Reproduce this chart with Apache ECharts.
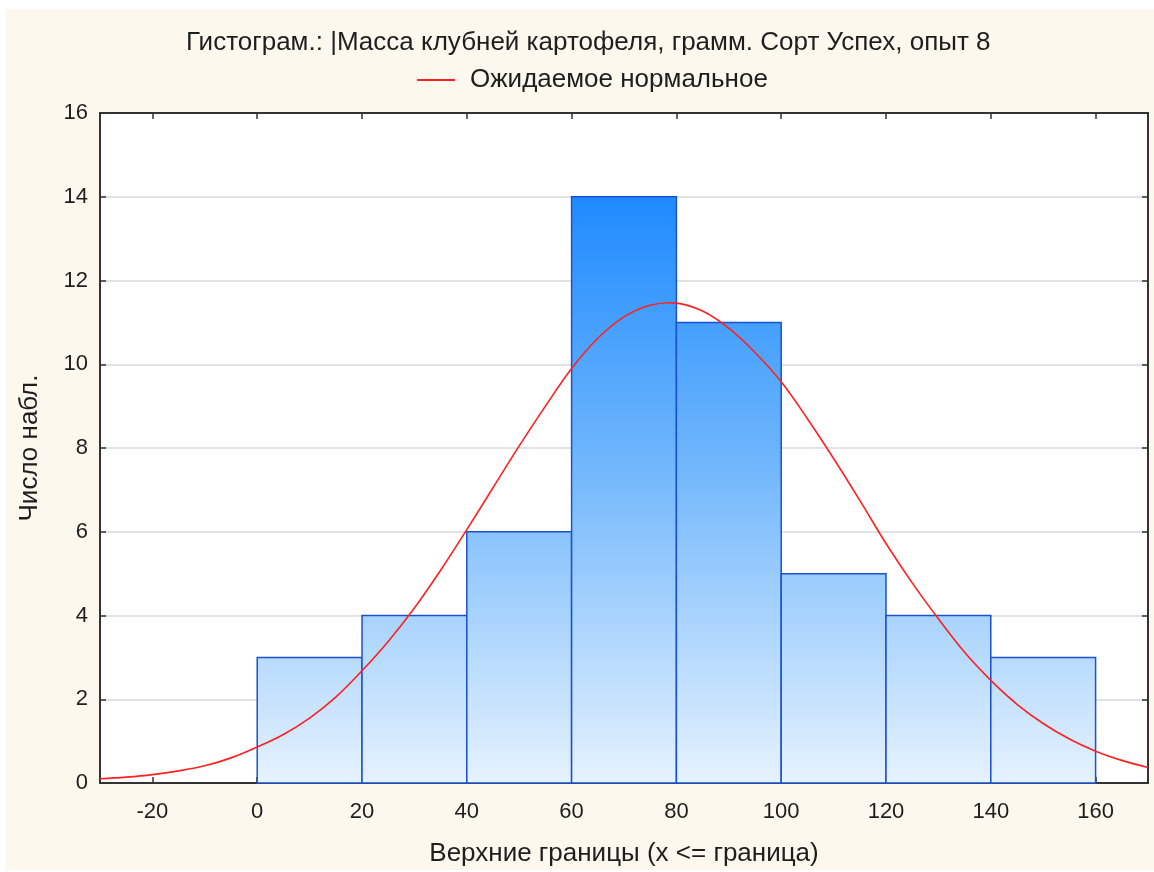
<!DOCTYPE html>
<html>
<head>
<meta charset="utf-8">
<script src="https://cdn.jsdelivr.net/npm/echarts@6/dist/echarts.min.js"></script>
<style>
  html, body { margin: 0; padding: 0; background: #ffffff; }
  #chart { width: 1154px; height: 872px; }
</style>
</head>
<body>
<div id="chart"></div>
<script>
// Histogram bins: lower and upper bounds (grams) and observed counts
const binLower = [0, 20, 40, 60, 80, 100, 120, 140];
const binUpper = [20, 40, 60, 80, 100, 120, 140, 160];
const binCounts = [3, 4, 6, 14, 11, 5, 4, 3];

// Expected normal curve, sampled along the x range
const curveX = [-30, -25, -20, -15, -10, -5, 0, 5, 10, 15, 20, 25, 30, 35, 40, 45, 50, 55, 60, 65, 70, 75, 80, 85, 90, 95, 100, 105, 110, 115, 120, 125, 130, 135, 140, 145, 150, 155, 160, 165, 170];
const curveY = [0.10, 0.14, 0.20, 0.29, 0.41, 0.60, 0.86, 1.16, 1.55, 2.05, 2.68, 3.38, 4.18, 5.08, 6.05, 7.05, 8.05, 9.00, 9.90, 10.62, 11.13, 11.41, 11.46, 11.27, 10.86, 10.28, 9.58, 8.70, 7.75, 6.75, 5.72, 4.78, 3.92, 3.12, 2.45, 1.88, 1.42, 1.05, 0.76, 0.54, 0.37];

// Axis tick labels
const xTicks = [-20, 0, 20, 40, 60, 80, 100, 120, 140, 160];
const yTicks = [0, 2, 4, 6, 8, 10, 12, 14, 16];

const titleText = 'Гистограм.: |Масса клубней картофеля, грамм. Сорт Успех, опыт 8';
const legendText = 'Ожидаемое нормальное';
const xName = 'Верхние границы (x <= граница)';
const yName = 'Число набл.';

const FONT = '"Liberation Sans", Arial, sans-serif';
const TEXT = '#1e1e1e';
const AXIS = '#333333';
const CURVE = '#ff2020';

const barData = binLower.map((lo, i) => [lo, binUpper[i], binCounts[i]]);
const curveData = curveX.map((x, i) => [x, curveY[i]]);

const chart = echarts.init(document.getElementById('chart'));

const tickCommon = { show: true, inside: true, length: 6, lineStyle: { color: AXIS, width: 1.5 } };
const lineCommon = { show: true, onZero: false, lineStyle: { color: AXIS, width: 2 } };

chart.setOption({
  backgroundColor: '#ffffff',
  animation: false,
  graphic: [{
    type: 'rect', z: -10, silent: true,
    shape: { x: 6, y: 9, width: 1148, height: 861 },
    style: { fill: '#fdf8ee' }
  }],
  title: {
    text: titleText,
    left: 181,
    top: 25,
    textStyle: { fontFamily: FONT, fontSize: 26, fontWeight: 'normal', color: TEXT }
  },
  legend: {
    top: 62,
    left: 412,
    itemWidth: 38,
    itemHeight: 2,
    itemGap: 12,
    icon: 'rect',
    data: [{ name: legendText, itemStyle: { color: CURVE } }],
    textStyle: { fontFamily: FONT, fontSize: 26, color: TEXT, padding: [0, 0, 0, 10] }
  },
  grid: {
    left: 100, top: 113, width: 1048, height: 670,
    outerBoundsMode: 'none',
    containLabel: false,
    show: true, backgroundColor: '#ffffff', borderColor: AXIS, borderWidth: 2
  },
  xAxis: [{
    type: 'value', min: -30, max: 170,
    name: xName, nameLocation: 'middle', nameGap: 58,
    nameTextStyle: { fontFamily: FONT, fontSize: 26, color: TEXT },
    axisLine: lineCommon,
    axisTick: Object.assign({ customValues: xTicks }, tickCommon),
    axisLabel: { customValues: xTicks, fontFamily: FONT, fontSize: 22, color: TEXT, margin: 18 },
    splitLine: { show: false }
  }, {
    type: 'value', min: -30, max: 170, position: 'top',
    axisLine: lineCommon,
    axisTick: Object.assign({ customValues: xTicks }, tickCommon),
    axisLabel: { show: false },
    splitLine: { show: false }
  }],
  yAxis: [{
    type: 'value', min: 0, max: 16, interval: 2,
    name: yName, nameLocation: 'middle', nameGap: 57, nameRotate: 90,
    nameTextStyle: { fontFamily: FONT, fontSize: 26, color: TEXT },
    axisLine: lineCommon,
    axisTick: tickCommon,
    axisLabel: { fontFamily: FONT, fontSize: 22, color: TEXT, margin: 12 },
    splitLine: { show: true, lineStyle: { color: '#d9d9d9', width: 1.5 } }
  }, {
    type: 'value', min: 0, max: 16, interval: 2, position: 'right',
    axisLine: lineCommon,
    axisTick: tickCommon,
    axisLabel: { show: false },
    splitLine: { show: false }
  }],
  series: [{
    type: 'custom',
    name: 'bins',
    xAxisIndex: 0, yAxisIndex: 0,
    data: barData,
    encode: { x: [0, 1], y: 2 },
    z: 2,
    renderItem: function (params, api) {
      const lo = api.value(0), hi = api.value(1), v = api.value(2);
      const p1 = api.coord([lo, v]);
      const p2 = api.coord([hi, 0]);
      const top = api.coord([0, 14])[1];
      const bot = api.coord([0, 0])[1];
      return {
        type: 'rect',
        shape: { x: p1[0], y: p1[1], width: p2[0] - p1[0], height: p2[1] - p1[1] },
        style: {
          fill: new echarts.graphic.LinearGradient(0, top, 0, bot, [
            { offset: 0, color: '#1f8bff' },
            { offset: 0.45, color: '#6fb6fc' },
            { offset: 1, color: '#e6f2fe' }
          ], true),
          stroke: '#1b52d0',
          lineWidth: 1.5
        }
      };
    }
  }, {
    // Expected normal curve: one smooth polyline through all sample points
    type: 'custom',
    name: legendText,
    xAxisIndex: 0, yAxisIndex: 0,
    data: curveData,
    encode: { x: 0, y: 1 },
    z: 3,
    itemStyle: { color: CURVE },
    renderItem: function (params, api) {
      if (params.dataIndex !== 0) return null;
      const pts = curveData.map(d => api.coord(d));
      return {
        type: 'polyline',
        shape: { points: pts, smooth: 0.35 },
        style: { fill: null, stroke: CURVE, lineWidth: 1.6 }
      };
    }
  }]
});
</script>
</body>
</html>
